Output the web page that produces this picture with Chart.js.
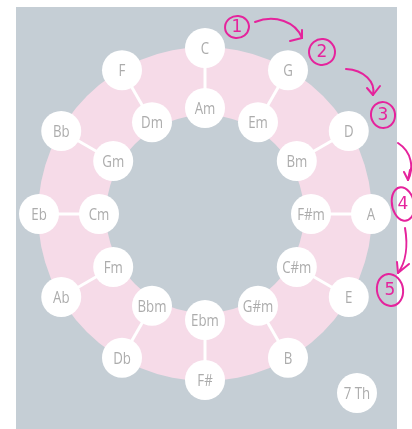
<!DOCTYPE html>
<html>
<head>
<meta charset="utf-8">
<script src="https://cdn.jsdelivr.net/npm/chart.js@4"></script>
<style>
  body { margin: 0; background: #fff; }
  canvas { display: block; }
</style>
</head>
<body>
<canvas id="fifths" width="412" height="429"></canvas>
<script>
const majorKeys = ["C", "G", "D", "A", "E", "B", "F#", "Db", "Ab", "Eb", "Bb", "F"];
const minorKeys = ["Am", "Em", "Bm", "F#m", "C#m", "G#m", "Ebm", "Bbm", "Fm", "Cm", "Gm", "Dm"];
const majorRing = [166, 166, 166, 166, 166, 166, 166, 166, 166, 166, 166, 166];
const minorRing = [106, 106, 106, 106, 106, 106, 106, 106, 106, 106, 106, 106];
const ringBand = [99, 167];
const extraNode = "7 Th";
const steps = ["1", "2", "3", "4", "5"];

const grayBg = "rgb(197,206,213)";
const pink = "rgb(246,219,232)";
const textGray = "#acacac";
const magenta = "#e5239c";
const labelFont = '17px "Open Sans", sans-serif';

// condensed look: squeeze text horizontally
function narrowText(ctx, str, x, y) {
  ctx.save();
  ctx.translate(x, y);
  ctx.scale(0.78, 1);
  ctx.fillText(str, 0, 0);
  ctx.restore();
}

const wheelPlugin = {
  id: "wheel",
  beforeDraw(chart) {
    const ctx = chart.ctx;
    ctx.save();
    ctx.fillStyle = grayBg;
    ctx.fillRect(16, 7, 381, 422);
    ctx.restore();
  },
  beforeDatasetsDraw(chart) {
    const ctx = chart.ctx;
    const s = chart.scales.r;
    const ro = s.getDistanceFromCenterForValue(ringBand[1]);
    const ri = s.getDistanceFromCenterForValue(ringBand[0]);
    ctx.save();
    ctx.fillStyle = pink;
    ctx.beginPath();
    ctx.arc(s.xCenter, s.yCenter, ro, 0, Math.PI * 2);
    ctx.arc(s.xCenter, s.yCenter, ri, 0, Math.PI * 2, true);
    ctx.fill();
    // spokes between major and relative minor
    const outer = chart.getDatasetMeta(0).data;
    const inner = chart.getDatasetMeta(1).data;
    ctx.strokeStyle = "#fff";
    ctx.lineWidth = 3;
    outer.forEach((p, i) => {
      ctx.beginPath();
      ctx.moveTo(p.x, p.y);
      ctx.lineTo(inner[i].x, inner[i].y);
      ctx.stroke();
    });
    ctx.restore();
  },
  afterDatasetsDraw(chart) {
    const ctx = chart.ctx;
    ctx.save();
    ctx.font = labelFont;
    ctx.fillStyle = textGray;
    ctx.textAlign = "center";
    ctx.textBaseline = "middle";
    [majorKeys, minorKeys].forEach((names, d) => {
      chart.getDatasetMeta(d).data.forEach((p, i) => {
        narrowText(ctx, names[i], p.x, p.y + 1);
      });
    });
    // 7th node
    ctx.fillStyle = "#fff";
    ctx.beginPath();
    ctx.arc(357, 393, 20, 0, Math.PI * 2);
    ctx.fill();
    ctx.fillStyle = textGray;
    narrowText(ctx, extraNode, 357, 394);
    ctx.restore();
  },
  afterDraw(chart) {
    const ctx = chart.ctx;
    ctx.save();
    ctx.strokeStyle = magenta;
    ctx.fillStyle = magenta;
    ctx.lineWidth = 2;
    ctx.lineCap = "round";
    ctx.lineJoin = "round";
    const rings = [[237, 27, 12, 11], [322, 52, 13, 13], [383, 115, 12, 13], [403, 204, 11, 17], [390, 290, 13, 16]];
    rings.forEach((r, i) => {
      ctx.beginPath();
      ctx.ellipse(r[0], r[1], r[2], r[3], -0.2, 0.3, Math.PI * 2 + 0.6);
      ctx.stroke();
      ctx.font = '17px "DejaVu Sans", sans-serif';
      ctx.textAlign = "center";
      ctx.textBaseline = "middle";
      ctx.fillText(steps[i], r[0], r[1] + 1);
    });
    const arrow = (pts, head) => {
      ctx.beginPath();
      ctx.moveTo(pts[0], pts[1]);
      ctx.bezierCurveTo(pts[2], pts[3], pts[4], pts[5], pts[6], pts[7]);
      ctx.stroke();
      ctx.beginPath();
      ctx.moveTo(head[0], head[1]);
      ctx.lineTo(pts[6], pts[7]);
      ctx.lineTo(head[2], head[3]);
      ctx.stroke();
    };
    arrow([255, 22, 275, 14, 296, 22, 302, 38], [290, 41, 302, 30]);
    arrow([346, 69, 364, 70, 376, 82, 373, 95], [367, 88, 380, 86]);
    arrow([398, 143, 412, 152, 414, 168, 408, 180], [404, 172, 410, 170]);
    arrow([405, 228, 408, 245, 406, 262, 398, 273], [397, 262, 409, 264]);
    ctx.restore();
  }
};

const nodeStyle = {
  showLine: false,
  fill: false,
  backgroundColor: "rgba(0,0,0,0)",
  borderColor: "rgba(0,0,0,0)",
  borderWidth: 0,
  pointRadius: 20,
  pointBorderWidth: 0,
  pointBackgroundColor: "#fff",
  pointBorderColor: "#fff",
};

new Chart(document.getElementById("fifths"), {
  type: "radar",
  data: {
    labels: majorKeys,
    datasets: [
      Object.assign({ label: "Major", data: majorRing }, nodeStyle),
      Object.assign({ label: "Minor", data: minorRing }, nodeStyle),
    ],
  },
  options: {
    responsive: false,
    animation: false,
    events: [],
    layout: { padding: { left: 5, right: 7, top: 14, bottom: 15 } },
    scales: {
      r: {
        min: 0,
        max: 200,
        grid: { display: false },
        angleLines: { display: false },
        ticks: { display: false },
        pointLabels: { display: false },
      },
    },
    plugins: {
      legend: { display: false },
      tooltip: { enabled: false },
    },
  },
  plugins: [wheelPlugin],
});
</script>
</body>
</html>
